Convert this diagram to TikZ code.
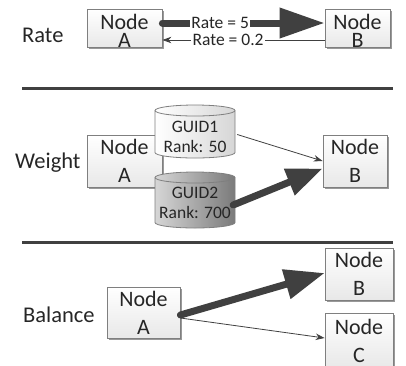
\documentclass[tikz,border=0pt]{standalone}
\usepackage{fontspec}
\setmainfont{Carlito}
\usetikzlibrary{arrows.meta,shadows,calc}
\definecolor{ink}{HTML}{262626}
\definecolor{edgec}{HTML}{404040}
\definecolor{bord}{HTML}{7F7F7F}
\begin{document}
\begin{tikzpicture}[x=1pt,y=-1pt,
  nbox/.style={draw=bord, line width=0.8pt, top color=white, bottom color=black!9,
    drop shadow={shadow xshift=1.6pt,shadow yshift=-1.6pt,fill=black!40,opacity=1},
    inner sep=0pt, align=center, text=ink},
  ntight/.style={font=\fontsize{22}{18}\selectfont},
  nloose/.style={font=\fontsize{22}{28}\selectfont},
  side/.style={anchor=base west, inner sep=0pt, text=ink, font=\fontsize{22.5}{27}\selectfont},
  ctext/.style={inner sep=0pt, align=center, text=ink, font=\fontsize{17.5}{20}\selectfont},
  cylbox/.style={inner sep=0pt, minimum width=80pt},
  cyl/.style={draw=bord, line width=0.8pt},
  elabel/.style={fill=white, inner sep=1.5pt, text=ink, font=\fontsize{17.5}{20}\selectfont},
  thin/.style={draw=edgec, line width=0.8pt, -{Stealth[length=9pt,width=6.5pt]}},
  fat/.style={draw=edgec, line width=7pt, line cap=round},
  sepline/.style={draw=edgec, line width=3pt}]
\useasboundingbox (0,0) rectangle (406,365);

% ---------- Rate ----------
\node[side] (lrate) at (22,42) {Rate};
\node[nbox,ntight,minimum width=75pt,minimum height=37pt] (ra) at (124.5,28.5) {\rule{0pt}{20pt}Node\\A};
\node[nbox,ntight,minimum width=65pt,minimum height=37pt] (rb) at (357.5,28.5) {\rule{0pt}{20pt}Node\\B};
\draw[fat,-{Triangle[length=45pt,width=29pt]}] ($(ra.east)+(0,-5.5)$) -- node[elabel,pos=0.356] {Rate = 5} ($(rb.west)+(0,-5.5)$);
\draw[thin] ($(rb.west)+(0,11.5)$) -- node[elabel,pos=0.595] {Rate = 0.2} ($(ra.east)+(0,11.5)$);

\coordinate (s1a) at (22,88);
\coordinate (s1b) at (393,88);
\draw[sepline] (s1a) -- (s1b);

% ---------- Weight ----------
\node[side] (lweight) at (15,168) {Weight};
\node[nbox,nloose,minimum width=75pt,minimum height=52pt] (wa) at (124.5,161) {Node\\A};
\node[nbox,nloose,minimum width=64pt,minimum height=52pt] (wb) at (355,161) {Node\\B};

% cylinder GUID1
\draw[cyl, left color=white, right color=black!16]
  (155,110.5) -- (155,152.5) arc[start angle=180,end angle=0,x radius=40,y radius=5.5]
  -- (235,110.5) arc[start angle=0,end angle=-180,x radius=40,y radius=5.5] -- cycle;
\draw[cyl] (155,110.5) arc[start angle=180,end angle=0,x radius=40,y radius=5.5];
\node[cylbox,minimum height=53pt] (g1) at (195,131.5) {};
\node[ctext] (g1t) at ($(g1)+(0,5.5)$) {GUID1\\Rank: 50};

% cylinder GUID2
\draw[cyl, left color=black!16, right color=black!52]
  (155,177.5) -- (155,222.5) arc[start angle=180,end angle=0,x radius=40,y radius=5.5]
  -- (235,177.5) arc[start angle=0,end angle=-180,x radius=40,y radius=5.5] -- cycle;
\draw[cyl] (155,177.5) arc[start angle=180,end angle=0,x radius=40,y radius=5.5];
\node[cylbox,minimum height=56pt] (g2) at (195,200) {};
\node[ctext] (g2t) at ($(g2)+(0,2.5)$) {GUID2\\Rank: 700};

\draw[thin] ($(g1.east)+(2,3)$) -- (wb.west);
\draw[fat,-{Triangle[length=36pt,width=27pt]}] ($(g2.east)+(-2,5)$) -- ($(wb.west)+(0,7.5)$);

\coordinate (s2a) at (22,242);
\coordinate (s2b) at (393,242);
\draw[sepline] (s2a) -- (s2b);

% ---------- Balance ----------
\node[side] (lbal) at (23,322) {Balance};
\node[nbox,nloose,minimum width=73pt,minimum height=51pt] (ba) at (143.5,312.5) {Node\\A};
\node[nbox,nloose,minimum width=68pt,minimum height=52pt] (bb) at (359,274) {Node\\B};
\node[nbox,nloose,minimum width=68pt,minimum height=55pt] (bc) at (359,340.5) {Node\\C};
\draw[fat,-{Triangle[length=40pt,width=29pt]}] ($(ba.east)+(0,2.5)$) -- ($(bb.west)+(0,-1)$);
\draw[thin] ($(ba.east)+(0,5.5)$) -- ($(bc.west)+(0,-2.5)$);
\end{tikzpicture}
\end{document}
